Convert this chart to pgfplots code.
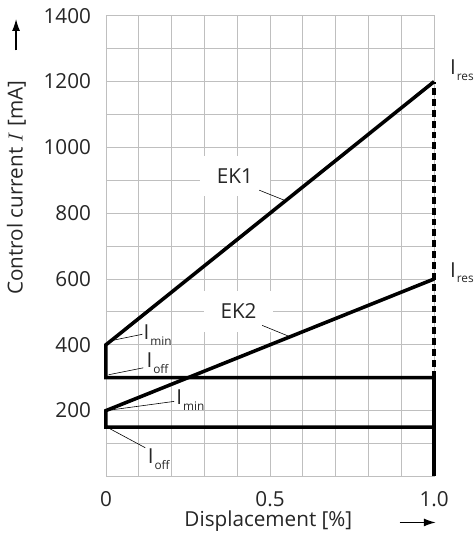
\documentclass[border=0pt]{standalone}
\usepackage{pgfplots}
\pgfplotsset{compat=1.18}
\usepackage{fontspec}
\setmainfont{Open Sans}
\usetikzlibrary{arrows.meta}
\newcommand{\Isub}[1]{I\kern1bp\raisebox{-6bp}{\fontsize{12}{14}\selectfont #1}}
\begin{document}
\fontsize{21}{25}\selectfont
\begin{tikzpicture}
\begin{axis}[
  scale only axis, width=332bp, height=466bp,
  xmin=0, xmax=1, ymin=0, ymax=1400,
  xtick={0,0.5,1}, xticklabels={0,0.5,1.0},
  minor xtick={0.1,0.2,0.3,0.4,0.6,0.7,0.8,0.9},
  ytick={200,400,600,800,1000,1200,1400},
  minor ytick={100,300,500,700,900,1100,1300},
  grid=both,
  major grid style={gray!50, line width=0.8bp},
  minor grid style={gray!50, line width=0.8bp},
  axis line style={gray!50, line width=0.8bp},
  major tick length=0pt, minor tick length=0pt,
  tick label style={font=\fontsize{21}{25}\selectfont, text=black!85},
  /pgf/number format/assume math mode=true,
  /pgf/number format/1000 sep={},
  yticklabel style={anchor=east, inner sep=0pt, xshift=-15bp},
  xticklabel style={anchor=north, inner sep=0pt, yshift=-15bp},
  clip=false,
]
\path (rel axis cs:-0.3223,-0.1202) rectangle (rel axis cs:1.1145,1.0343);
\addplot[black, line width=3.6bp, line join=miter] coordinates {(1,300) (0,300) (0,400) (1,1200)};
\addplot[black, line width=3.6bp, line join=miter] coordinates {(1,150) (0,150) (0,200) (1,600)};
\addplot[black, line width=3.6bp] coordinates {(1,0) (1,300)};
\addplot[black, line width=3.6bp, dash pattern=on 7bp off 4bp] coordinates {(1,300) (1,1200)};

\node[fill=white, inner xsep=17bp, inner ysep=13bp, text=black!85] at (axis cs:0.393,913) {EK1};
\node[fill=white, inner xsep=17bp, inner ysep=13bp, text=black!85] at (axis cs:0.404,502) {EK2};
\draw[black, line width=0.6bp] (axis cs:0.467,870) -- (axis cs:0.542,840);
\draw[black, line width=0.6bp] (axis cs:0.476,459) -- (axis cs:0.557,426);

\draw[black, line width=0.6bp] (axis cs:0.008,411) -- (axis cs:0.111,432);
\draw[black, line width=0.6bp] (axis cs:0.008,309) -- (axis cs:0.114,330);
\draw[black, line width=0.6bp] (axis cs:0.008,201) -- (axis cs:0.208,228);
\draw[black, line width=0.6bp] (axis cs:0.008,147) -- (axis cs:0.120,87);

\node[anchor=base west, inner sep=0pt, text=black!85] at (axis cs:0.114,417) {\Isub{min}};
\node[anchor=base west, inner sep=0pt, text=black!85] at (axis cs:0.123,330) {\Isub{off}};
\node[anchor=base west, inner sep=0pt, text=black!85] at (axis cs:0.214,219) {\Isub{min}};
\node[anchor=base west, inner sep=0pt, text=black!85] at (axis cs:0.127,39) {\Isub{off}};
\node[anchor=base west, inner sep=0pt, text=black!85] at (axis cs:1.048,1221) {\Isub{res}};
\node[anchor=base west, inner sep=0pt, text=black!85] at (axis cs:1.048,606) {\Isub{res}};

\node[rotate=90, text=black!85] at (rel axis cs:-0.273,0.627) {Control current $I$ [mA]};
\node[anchor=base, text=black!85] at (rel axis cs:0.495,-0.108) {Displacement [\%]};
\draw[-{Latex[length=12bp,width=8bp]}, line width=1.2bp] (rel axis cs:-0.274,0.925) -- (rel axis cs:-0.274,0.993);
\draw[-{Latex[length=12bp,width=8bp]}, line width=1.2bp] (rel axis cs:0.895,-0.100) -- (rel axis cs:1.005,-0.100);
\end{axis}
\end{tikzpicture}
\end{document}
